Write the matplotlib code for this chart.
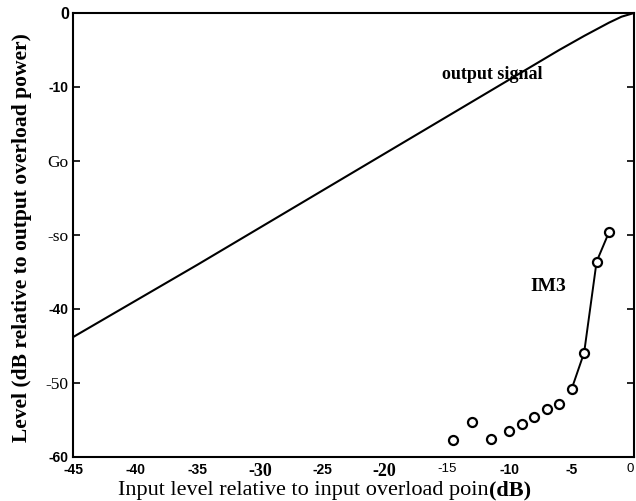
import matplotlib
matplotlib.use("Agg")
import matplotlib.pyplot as plt

# ---- data ----
sig_in = [-45, -40, -35, -30, -25, -20, -15, -10, -6, -4, -2, -1, 0]
sig_out = [-43.8, -38.9, -34.0, -29.0, -24.0, -19.0, -14.0, -9.0, -5.0, -3.1, -1.3, -0.5, 0.0]

im3_in = [-14.5, -13.0, -11.5, -10.0, -9.0, -8.0, -7.0, -6.0, -5.0, -4.0, -3.0, -2.0]
im3_out = [-57.7, -55.3, -57.6, -56.5, -55.5, -54.6, -53.5, -52.8, -50.8, -45.9, -33.6, -29.6]
im3_line_from = 8  # index from which IM3 points are joined by a line

x_ticks = [-45, -40, -35, -30, -25, -20, -15, -10, -5, 0]
x_tick_labels = ["-45", "-40", "-35", "-30", "-25", "-20", "-15", "-10", "-5", "0"]
y_ticks = [0, -10, -20, -30, -40, -50, -60]
y_tick_labels = ["0", "-10", "Go", "-so", "-40", "-50", "-60"]

x_label = "Input level relative to input overload poin"
x_label_bold = "(dB)"
y_label = "Level (dB relative to output overload power)"

# ---- figure ----
fig = plt.figure(figsize=(6.36, 5.01), dpi=100)
ax = fig.add_axes([73 / 636, 44 / 501, 561 / 636, 444 / 501])

ax.plot(sig_in, sig_out, color="black", lw=1.5)
ax.plot(im3_in[im3_line_from:], im3_out[im3_line_from:], color="black", lw=1.4)
ax.plot(im3_in, im3_out, linestyle="none", marker="o", markersize=6.5,
        markerfacecolor="white", markeredgecolor="black", markeredgewidth=1.6)

ax.set_xlim(-45, 0)
ax.set_ylim(-60, 0)
for s in ax.spines.values():
    s.set_linewidth(1.5)

ax.set_xticks(x_ticks)
ax.set_xticklabels(x_tick_labels)
ax.set_yticks(y_ticks)
ax.set_yticklabels(y_tick_labels)
ax.tick_params(direction="in", length=5, width=1.2, top=True, right=True,
               pad=3)
ax.tick_params(axis="x", length=0, pad=4)

sans_b = dict(family="Liberation Sans", weight="bold", size=10)
serif_r = dict(family="Liberation Serif", weight="normal", size=12.5)
serif_b = dict(family="Liberation Serif", weight="bold", size=13)
sans_r = dict(family="Liberation Sans", weight="normal", size=9.5)

x_styles = [sans_b, sans_b, sans_b, serif_b, sans_b, serif_b, sans_r, sans_b, sans_b, sans_r]
y_styles = [dict(family="Liberation Sans", weight="bold", size=11.5), sans_b, serif_r,
            serif_r, sans_b, serif_r, sans_b]
for lab, st in zip(ax.get_xticklabels(), x_styles):
    lab.set_fontfamily(st["family"]); lab.set_fontweight(st["weight"]); lab.set_fontsize(st["size"])
for lab, st in zip(ax.get_yticklabels(), y_styles):
    lab.set_fontfamily(st["family"]); lab.set_fontweight(st["weight"]); lab.set_fontsize(st["size"])
# keep the last x tick label inside the figure
ax.get_xticklabels()[-1].set_horizontalalignment("right")

ax.text(-11.4, -8.3, "output signal", family="Liberation Serif", weight="bold",
        fontsize=13, ha="center", va="center")
ax.text(-6.9, -36.9, "IM3", family="Liberation Serif", weight="bold",
        fontsize=14, ha="center", va="center")

fig.text(22 / 636, 1 - 238 / 501, y_label, rotation=90, family="Liberation Serif",
         weight="bold", fontsize=15.5, ha="center", va="center")

# x label: regular part + bold part on a shared baseline
base_y = 1 - 495 / 501
t1 = fig.text(118 / 636, base_y, x_label, family="Liberation Serif",
              fontsize=16, ha="left", va="baseline")
fig.canvas.draw()
bb = t1.get_window_extent()
fig.text(bb.x1 / (6.36 * 100), base_y, x_label_bold, family="Liberation Serif",
         weight="bold", fontsize=16, ha="left", va="baseline")

fig.savefig("out.png", dpi=100)
